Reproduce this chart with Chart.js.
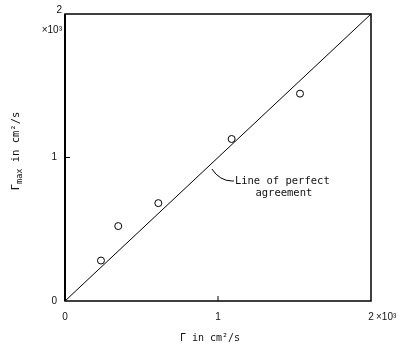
<!DOCTYPE html>
<html>
<head>
<meta charset="utf-8">
<script src="https://cdn.jsdelivr.net/npm/chart.js@4"></script>
<style>
  html, body { margin: 0; padding: 0; background: #fff; }
  #grafico { display: block; }
</style>
</head>
<body>
<canvas id="grafico" width="404" height="347"></canvas>
<script>
// Dados medidos (cm²/s)
const gamaMedido = [235, 348, 610, 1089, 1536];
const gamaMaximo = [282, 522, 682, 1129, 1445];
// Linha de concordância perfeita
const linhaX = [0, 2000];
const linhaY = [0, 2000];
const ticks = [0, 1000, 2000];
const rotulosTicks = ['0', '1', '2'];

const ctx = document.getElementById('grafico').getContext('2d');
const fonteMono = '"DejaVu Sans Mono", monospace';
const fonteSans = '"Liberation Sans", Arial, sans-serif';

// Moldura, ticks internos, textos extras
const extras = {
    id: 'extras',
    afterDraw(chart) {
        const { ctx, chartArea: a, scales: { x, y } } = chart;
        ctx.save();
        ctx.strokeStyle = '#000';
        ctx.lineWidth = 1.5;
        ctx.strokeRect(a.left, a.top, a.right - a.left, a.bottom - a.top);
        ctx.lineWidth = 2;
        ctx.beginPath();
        ctx.moveTo(a.left, a.top);
        ctx.lineTo(a.left, a.bottom);
        ctx.stroke();

        ctx.lineWidth = 1;
        const px = x.getPixelForValue(1000);
        const py = y.getPixelForValue(1000);
        ctx.beginPath();
        ctx.moveTo(px, a.bottom);
        ctx.lineTo(px, a.bottom - 5);
        ctx.moveTo(a.left, py);
        ctx.lineTo(a.left + 5, py);
        ctx.stroke();

        ctx.fillStyle = '#111';
        ctx.font = '10px ' + fonteSans;
        ctx.textBaseline = 'middle';
        // "2" e ×10³ no eixo y
        ctx.textAlign = 'right';
        ctx.fillText('2', a.left - 3, a.top - 4);
        ctx.fillText('×10³', a.left - 3, a.top + 16);
        // ×10³ no eixo x
        ctx.textAlign = 'left';
        ctx.fillText('×10³', x.getPixelForValue(2000) + 5, a.bottom + 16);

        // titulo do eixo x
        ctx.font = '10px ' + fonteMono;
        ctx.textAlign = 'center';
        ctx.fillText('Γ in cm²/s', a.left + 145, 338);

        // titulo do eixo y com subscrito
        ctx.save();
        ctx.translate(16, 151);
        ctx.rotate(-Math.PI / 2);
        ctx.textAlign = 'left';
        const partes = [['Γ', 10.5, 0], ['max', 8.5, 4], [' in cm²/s', 10.5, 0]];
        let largura = 0;
        partes.forEach(p => { ctx.font = p[1] + 'px ' + fonteMono; largura += ctx.measureText(p[0]).width; });
        let cx = -largura / 2;
        partes.forEach(p => {
            ctx.font = p[1] + 'px ' + fonteMono;
            ctx.fillText(p[0], cx, p[2]);
            cx += ctx.measureText(p[0]).width;
        });
        ctx.restore();

        // anotação da linha
        const ax = x.getPixelForValue(960);
        const ay = y.getPixelForValue(920);
        ctx.lineWidth = 1;
        ctx.beginPath();
        ctx.moveTo(ax, ay);
        ctx.quadraticCurveTo(ax + 8, ay + 12, ax + 20, ay + 12);
        ctx.lineTo(ax + 22, ay + 12);
        ctx.stroke();
        ctx.font = '10.5px ' + fonteMono;
        ctx.textAlign = 'left';
        ctx.fillText('Line of perfect', ax + 23, ay + 12);
        ctx.textAlign = 'center';
        ctx.fillText('agreement', ax + 72, ay + 24);
        ctx.restore();
    }
};

new Chart(ctx, {
    type: 'scatter',
    data: {
        datasets: [
            {
                type: 'line',
                data: linhaX.map((v, i) => ({ x: v, y: linhaY[i] })),
                borderColor: '#000',
                borderWidth: 1,
                pointRadius: 0,
                fill: false
            },
            {
                data: gamaMedido.map((v, i) => ({ x: v, y: gamaMaximo[i] })),
                pointStyle: 'circle',
                pointRadius: 3.5,
                borderColor: '#000',
                backgroundColor: '#fff',
                borderWidth: 1
            }
        ]
    },
    options: {
        responsive: false,
        animation: false,
        layout: { padding: { left: 0, top: 10, right: 33, bottom: 0 } },
        plugins: { legend: { display: false }, tooltip: { enabled: false } },
        scales: {
            x: {
                type: 'linear', min: 0, max: 2000,
                afterBuildTicks: s => { s.ticks = ticks.map(v => ({ value: v })); },
                afterFit: s => { s.height = 46; },
                grid: { display: false, drawTicks: false },
                border: { display: false },
                ticks: {
                    padding: 10, color: '#111',
                    font: { family: fonteSans, size: 10 },
                    callback: v => rotulosTicks[ticks.indexOf(v)]
                }
            },
            y: {
                type: 'linear', min: 0, max: 2000,
                afterBuildTicks: s => { s.ticks = ticks.slice(0, 2).map(v => ({ value: v })); },
                afterFit: s => { s.width = 65; },
                grid: { display: false, drawTicks: false },
                border: { display: false },
                ticks: {
                    padding: 8, color: '#111',
                    font: { family: fonteSans, size: 10 },
                    callback: v => rotulosTicks[ticks.indexOf(v)]
                }
            }
        }
    },
    plugins: [extras]
});
</script>
</body>
</html>
